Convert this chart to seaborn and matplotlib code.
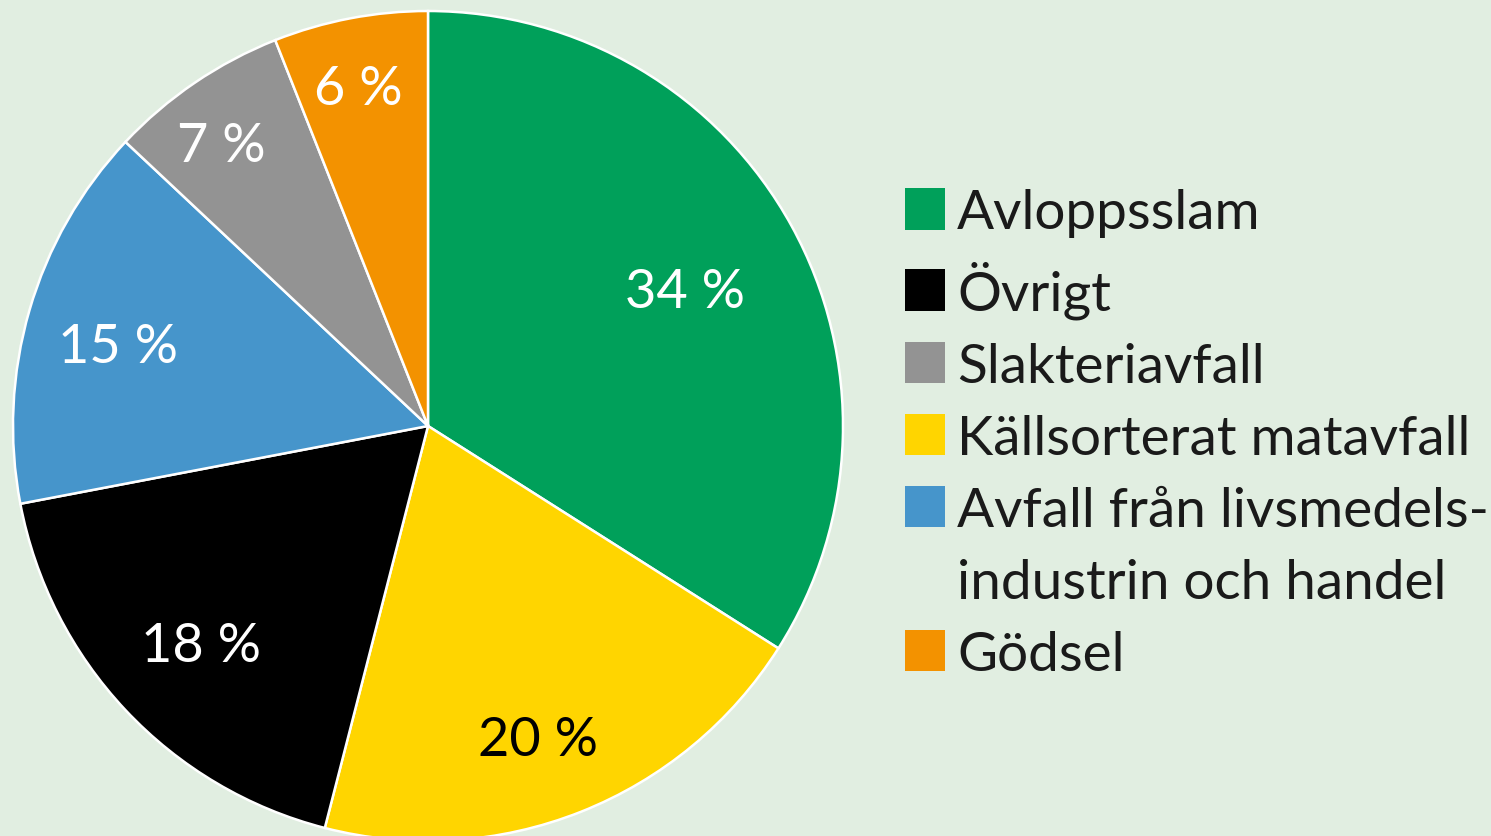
import matplotlib
matplotlib.use("Agg")
import matplotlib.pyplot as plt
import matplotlib.patches as mpatches
import numpy as np
import seaborn as sns

# ---- data ----
categories = ["Avloppsslam", "Källsorterat matavfall", "Övrigt",
              "Avfall från livsmedels-\nindustrin och handel", "Slakteriavfall", "Gödsel"]
shares = [34, 20, 18, 15, 7, 6]
pct_labels = ["34 %", "20 %", "18 %", "15 %", "7 %", "6 %"]
legend_order = ["Avloppsslam", "Övrigt", "Slakteriavfall", "Källsorterat matavfall",
                "Avfall från livsmedels-\nindustrin och handel", "Gödsel"]

# ---- style ----
colors = ["#00A05A", "#FFD500", "#000000", "#4695CB", "#939393", "#F39200"]
label_colors = ["white", "black", "white", "white", "white", "white"]
label_dist = [0.70, 0.80, 0.76, 0.77, 0.84, 0.83]
label_dang = [-1.2, -2.3, 0.8, 1.8, 2.2, 0.9]
bg = "#E1EEE1"

sns.set_theme(style="white")
plt.rcParams["font.family"] = ["Lato", "DejaVu Sans"]

W, H, DPI = 1491, 837, 100
fig = plt.figure(figsize=(W / DPI, H / DPI), dpi=DPI, facecolor=bg)
R = 415
cx, cy = 428, 427
ax = fig.add_axes([(cx - R) / W, (H - cy - R) / H, 2 * R / W, 2 * R / H])
ax.set_facecolor(bg)

wedges, _ = ax.pie(shares, colors=colors, startangle=90, counterclock=False,
                   radius=1.0, wedgeprops=dict(edgecolor="white", linewidth=1.8))
for w, lab, col, d, da in zip(wedges, pct_labels, label_colors, label_dist, label_dang):
    ang = np.deg2rad((w.theta1 + w.theta2) / 2 + da)
    ax.text(d * np.cos(ang), d * np.sin(ang), lab, ha="center", va="center",
            fontsize=39, color=col)
ax.set_xlim(-1, 1)
ax.set_ylim(-1, 1)
ax.set_aspect("equal")
ax.axis("off")

# legend: multi-line labels split into separate rows, continuation rows without a swatch
handles, texts = [], []
for c in legend_order:
    wdg = wedges[categories.index(c)]
    for i, line in enumerate(c.split("\n")):
        if i == 0:
            handles.append(mpatches.Patch(facecolor=wdg.get_facecolor(), edgecolor="none"))
        else:
            handles.append(mpatches.Patch(facecolor="none", edgecolor="none"))
        texts.append(line)

leg = fig.legend(handles, texts, loc="upper left",
                 bbox_to_anchor=(905 / W, 1 - 189 / H), frameon=False,
                 fontsize=39.5, handlelength=0.73, handleheight=0.78,
                 handletextpad=0.22, labelspacing=0.42, borderpad=0, borderaxespad=0)
for t in leg.get_texts():
    t.set_color("#1a1a1a")

fig.savefig("out.png", dpi=DPI, facecolor=bg)
